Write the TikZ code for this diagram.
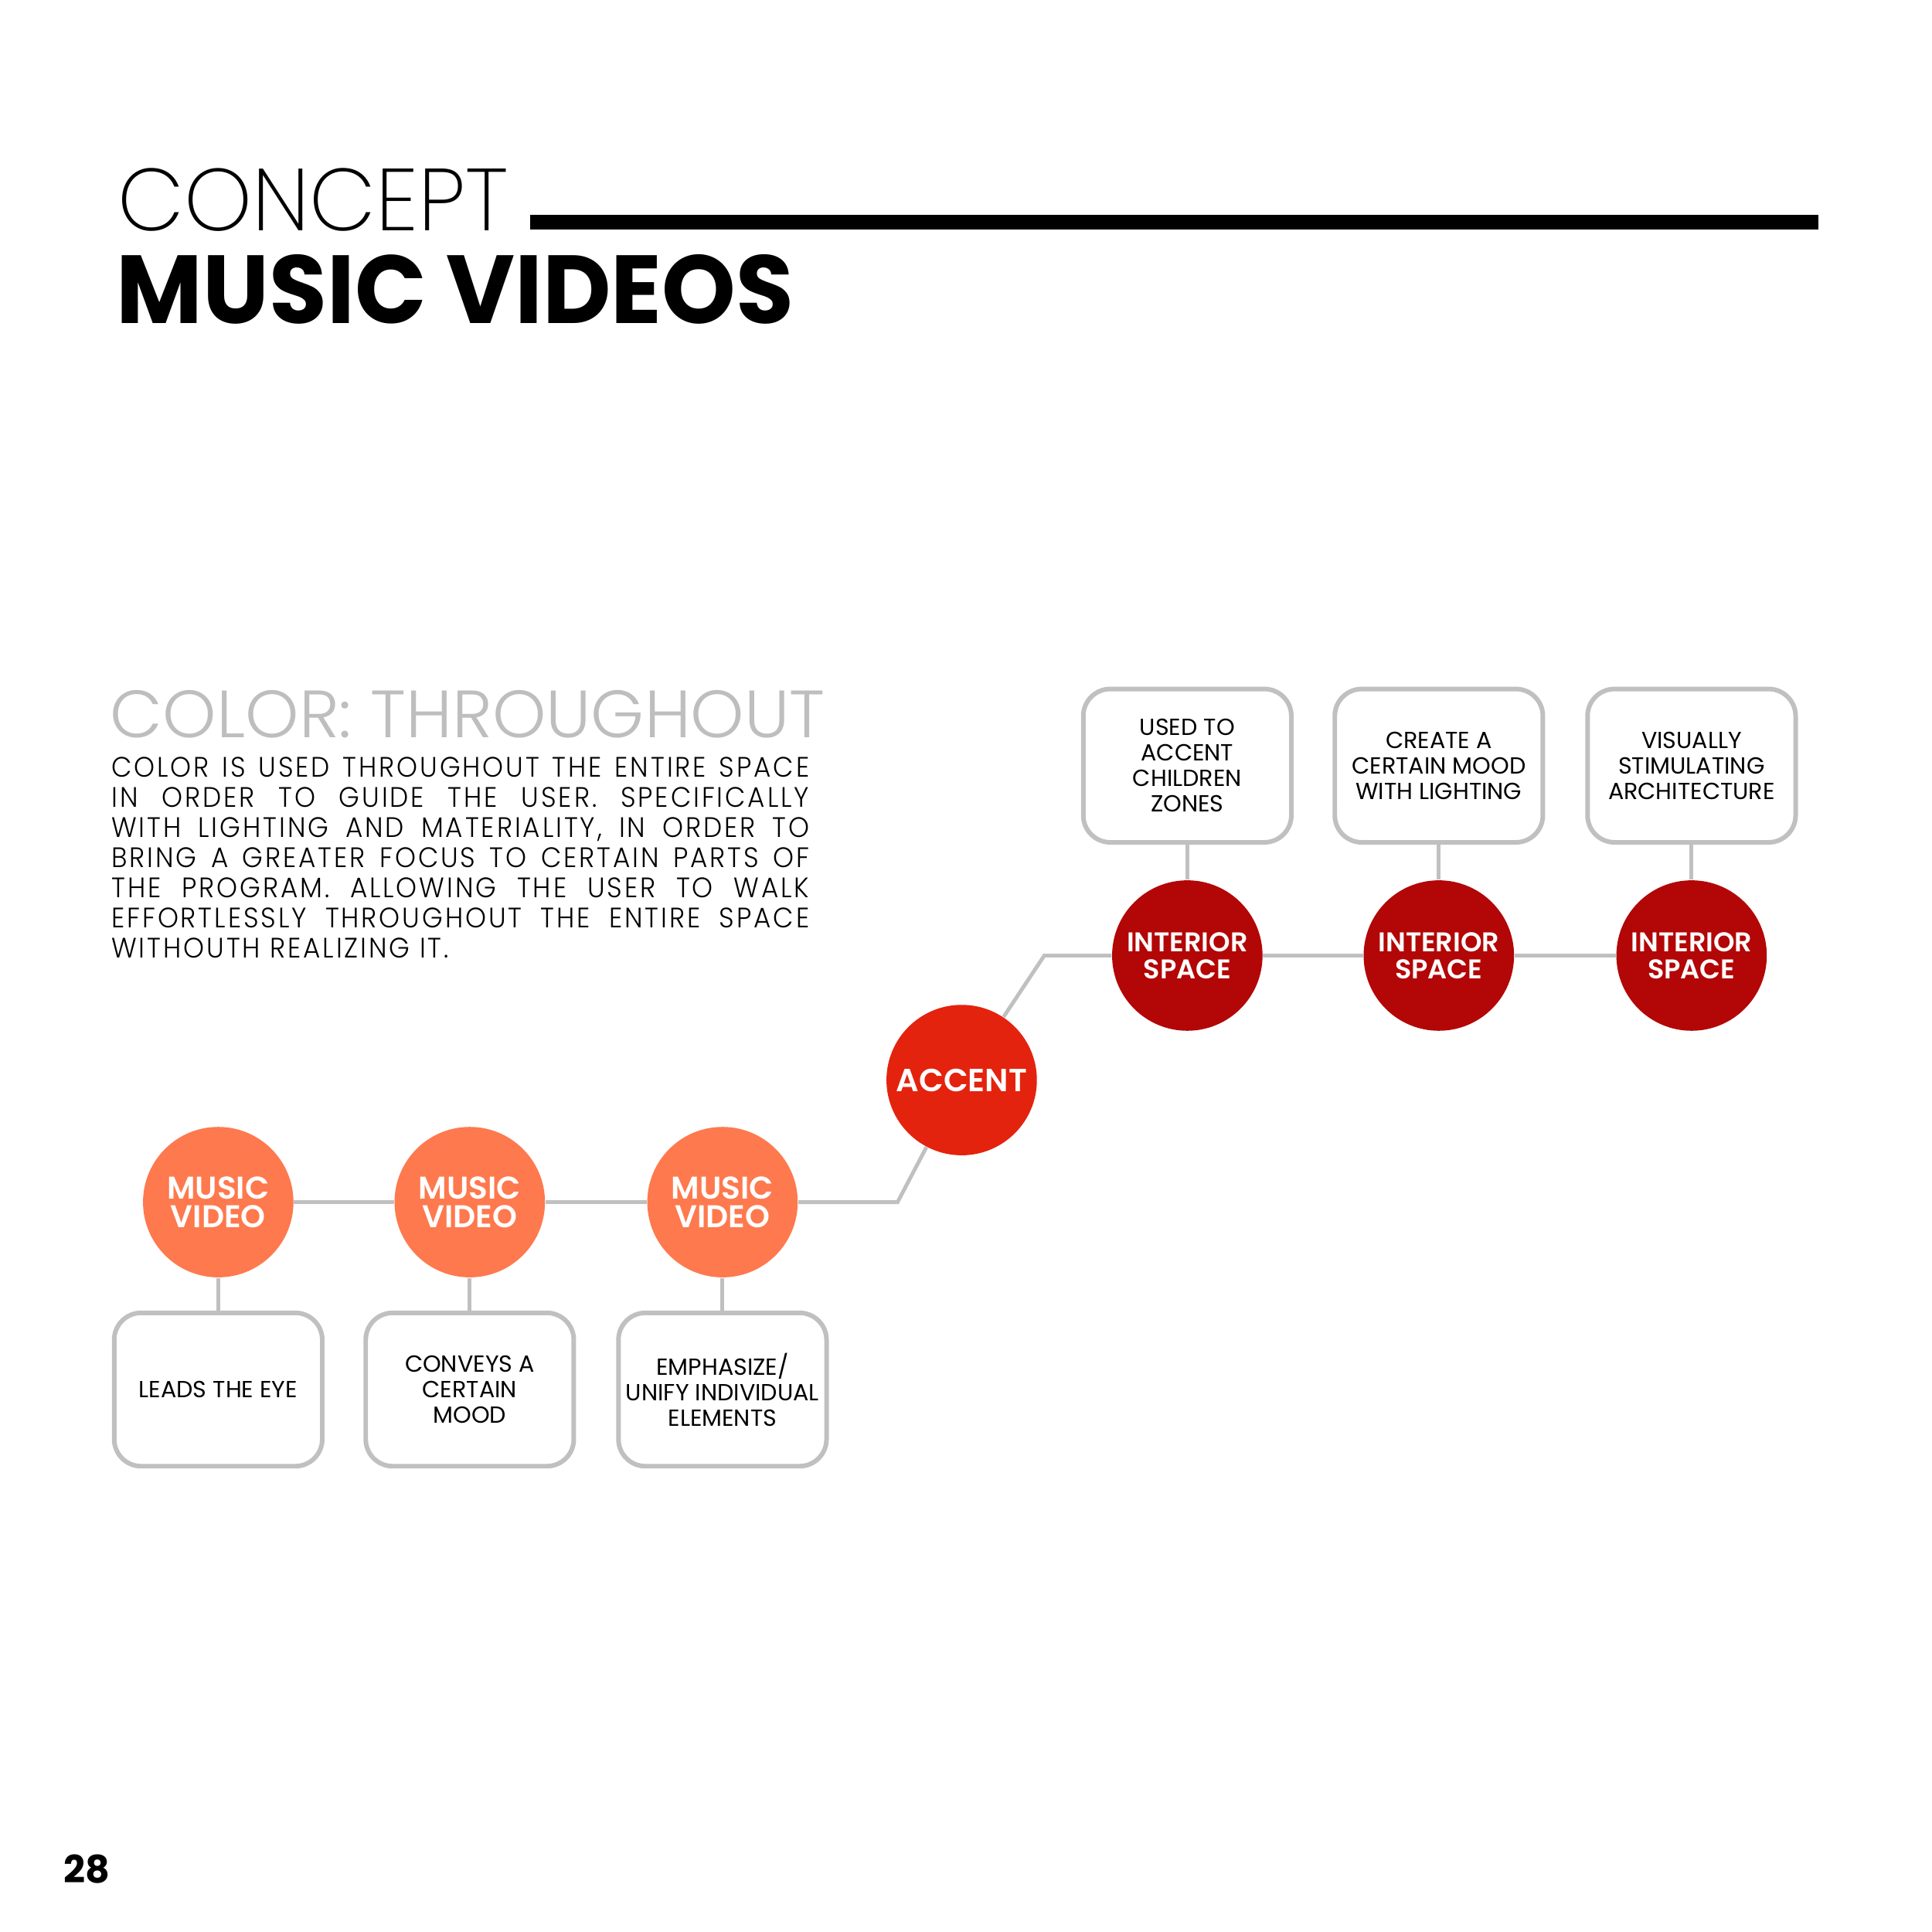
\documentclass[tikz,border=0pt]{standalone}
\usepackage{fontspec}
\setmainfont{Poppins}
\newfontfamily\pop{Poppins}
\newfontfamily\plight{Poppins ExtraLight}[FakeStretch=0.98]
\newfontfamily\pgray{Poppins Light}[FakeStretch=1.02]
\newfontfamily\pbody{Poppins Light}[FakeStretch=0.94,LetterSpace=8]
\newfontfamily\psemi{Poppins SemiBold}
\newfontfamily\pbold{Poppins Bold}
\newfontfamily\ptitle{Poppins Bold}[FakeStretch=0.973]
\definecolor{darkred}{RGB}{179,6,6}
\definecolor{accentred}{RGB}{228,35,14}
\definecolor{coral}{RGB}{254,121,78}
\definecolor{linegray}{RGB}{192,192,192}
\definecolor{titlegray}{RGB}{190,190,190}
\newcommand{\bodyline}[1]{\makebox[90.56mm][s]{#1}}
\begin{document}
\begin{tikzpicture}[x=0.16mm,y=-0.16mm,
  circ/.style={circle, minimum size=19.52mm, inner sep=0pt, text=white, align=center,
    font=\psemi\fontsize{10}{10}\selectfont},
  mv/.style={circ, fill=coral, font=\psemi\fontsize{11.6}{10.4}\selectfont},
  isp/.style={circ, fill=darkred},
  acc/.style={circ, fill=accentred, font=\psemi\fontsize{11.8}{11.8}\selectfont},
  card/.style={draw=linegray, line width=1.7pt, rounded corners=3.5mm, fill=white,
    minimum width=27.0mm, minimum height=19.9mm, inner sep=0pt, align=center,
    font=\pop\fontsize{8.6}{9.4}\selectfont},
  conn/.style={draw=linegray, line width=1.4pt},
  txt/.style={anchor=base west, inner sep=0pt},
  bodytxt/.style={txt, font=\pbody\fontsize{10.4}{11}\selectfont}
]
\path[fill=white] (0,0) rectangle (1567,1567);
\useasboundingbox (0,0) rectangle (1567,1567);

% titles
\node[txt, font=\plight\fontsize{32.5}{32.5}\selectfont] (concept) at (95,187) {CONCEPT};
\fill[black] (430,174) rectangle (1475,186);
\node[txt, font=\ptitle\fontsize{35.7}{35.7}\selectfont] (mvt) at (94,262) {MUSIC VIDEOS};

% colour heading + body
\node[txt, text=titlegray, font=\pgray\fontsize{24.7}{24.7}\selectfont] (ct) at (89,598) {COLOR: THROUGHOUT};
\node[bodytxt] (b1) at (90,630) {\bodyline{COLOR IS USED THROUGHOUT THE ENTIRE SPACE}};
\node[bodytxt] (b2) at (90,654.5) {\bodyline{IN ORDER TO GUIDE THE USER. SPECIFICALLY}};
\node[bodytxt] (b3) at (90,679) {\bodyline{WITH LIGHTING AND MATERIALITY, IN ORDER TO}};
\node[bodytxt] (b4) at (90,703.5) {\bodyline{BRING A GREATER FOCUS TO CERTAIN PARTS OF}};
\node[bodytxt] (b5) at (90,728) {\bodyline{THE PROGRAM. ALLOWING THE USER TO WALK}};
\node[bodytxt] (b6) at (90,752.5) {\bodyline{EFFORTLESSLY THROUGHOUT THE ENTIRE SPACE}};
\node[bodytxt] (b7) at (90,777) {WITHOUTH REALIZING IT.};

% circles
\node[isp] (i1) at (963,775) {INTERIOR\\SPACE};
\node[isp] (i2) at (1167,775) {INTERIOR\\SPACE};
\node[isp] (i3) at (1372,775) {INTERIOR\\SPACE};
\node[acc] (ac) at (780,876) {ACCENT};
\node[mv] (m1) at (177,975) {MUSIC\\VIDEO};
\node[mv] (m2) at (381,975) {MUSIC\\VIDEO};
\node[mv] (m3) at (586,975) {MUSIC\\VIDEO};

% cards
\node[card] (t1) at (963,621) {USED TO\\ACCENT\\CHILDREN\\ZONES};
\node[card] (t2) at (1167,621) {CREATE A\\CERTAIN MOOD\\WITH LIGHTING};
\node[card] (t3) at (1372,621) {VISUALLY\\STIMULATING\\ARCHITECTURE};
\node[card] (c1) at (177,1127) {LEADS THE EYE};
\node[card] (c2) at (381,1127) {CONVEYS A\\CERTAIN\\MOOD};
\node[card] (c3) at (586,1127) {EMPHASIZE/\\UNIFY INDIVIDUAL\\ELEMENTS};

% connectors
\coordinate (k1) at (728,975);
\coordinate (k2) at (847,775);
\draw[conn] (m1) -- (m2);
\draw[conn] (m2) -- (m3);
\draw[conn] (m3) -- (k1) -- (ac);
\draw[conn] (ac) -- (k2) -- (i1);
\draw[conn] (i1) -- (i2);
\draw[conn] (i2) -- (i3);
\draw[conn] (t1) -- (i1);
\draw[conn] (t2) -- (i2);
\draw[conn] (t3) -- (i3);
\draw[conn] (m1) -- (c1);
\draw[conn] (m2) -- (c2);
\draw[conn] (m3) -- (c3);

% page number
\node[txt, font=\pbold\fontsize{14}{14}\selectfont] (pg) at (51,1527) {28};
\end{tikzpicture}
\end{document}
